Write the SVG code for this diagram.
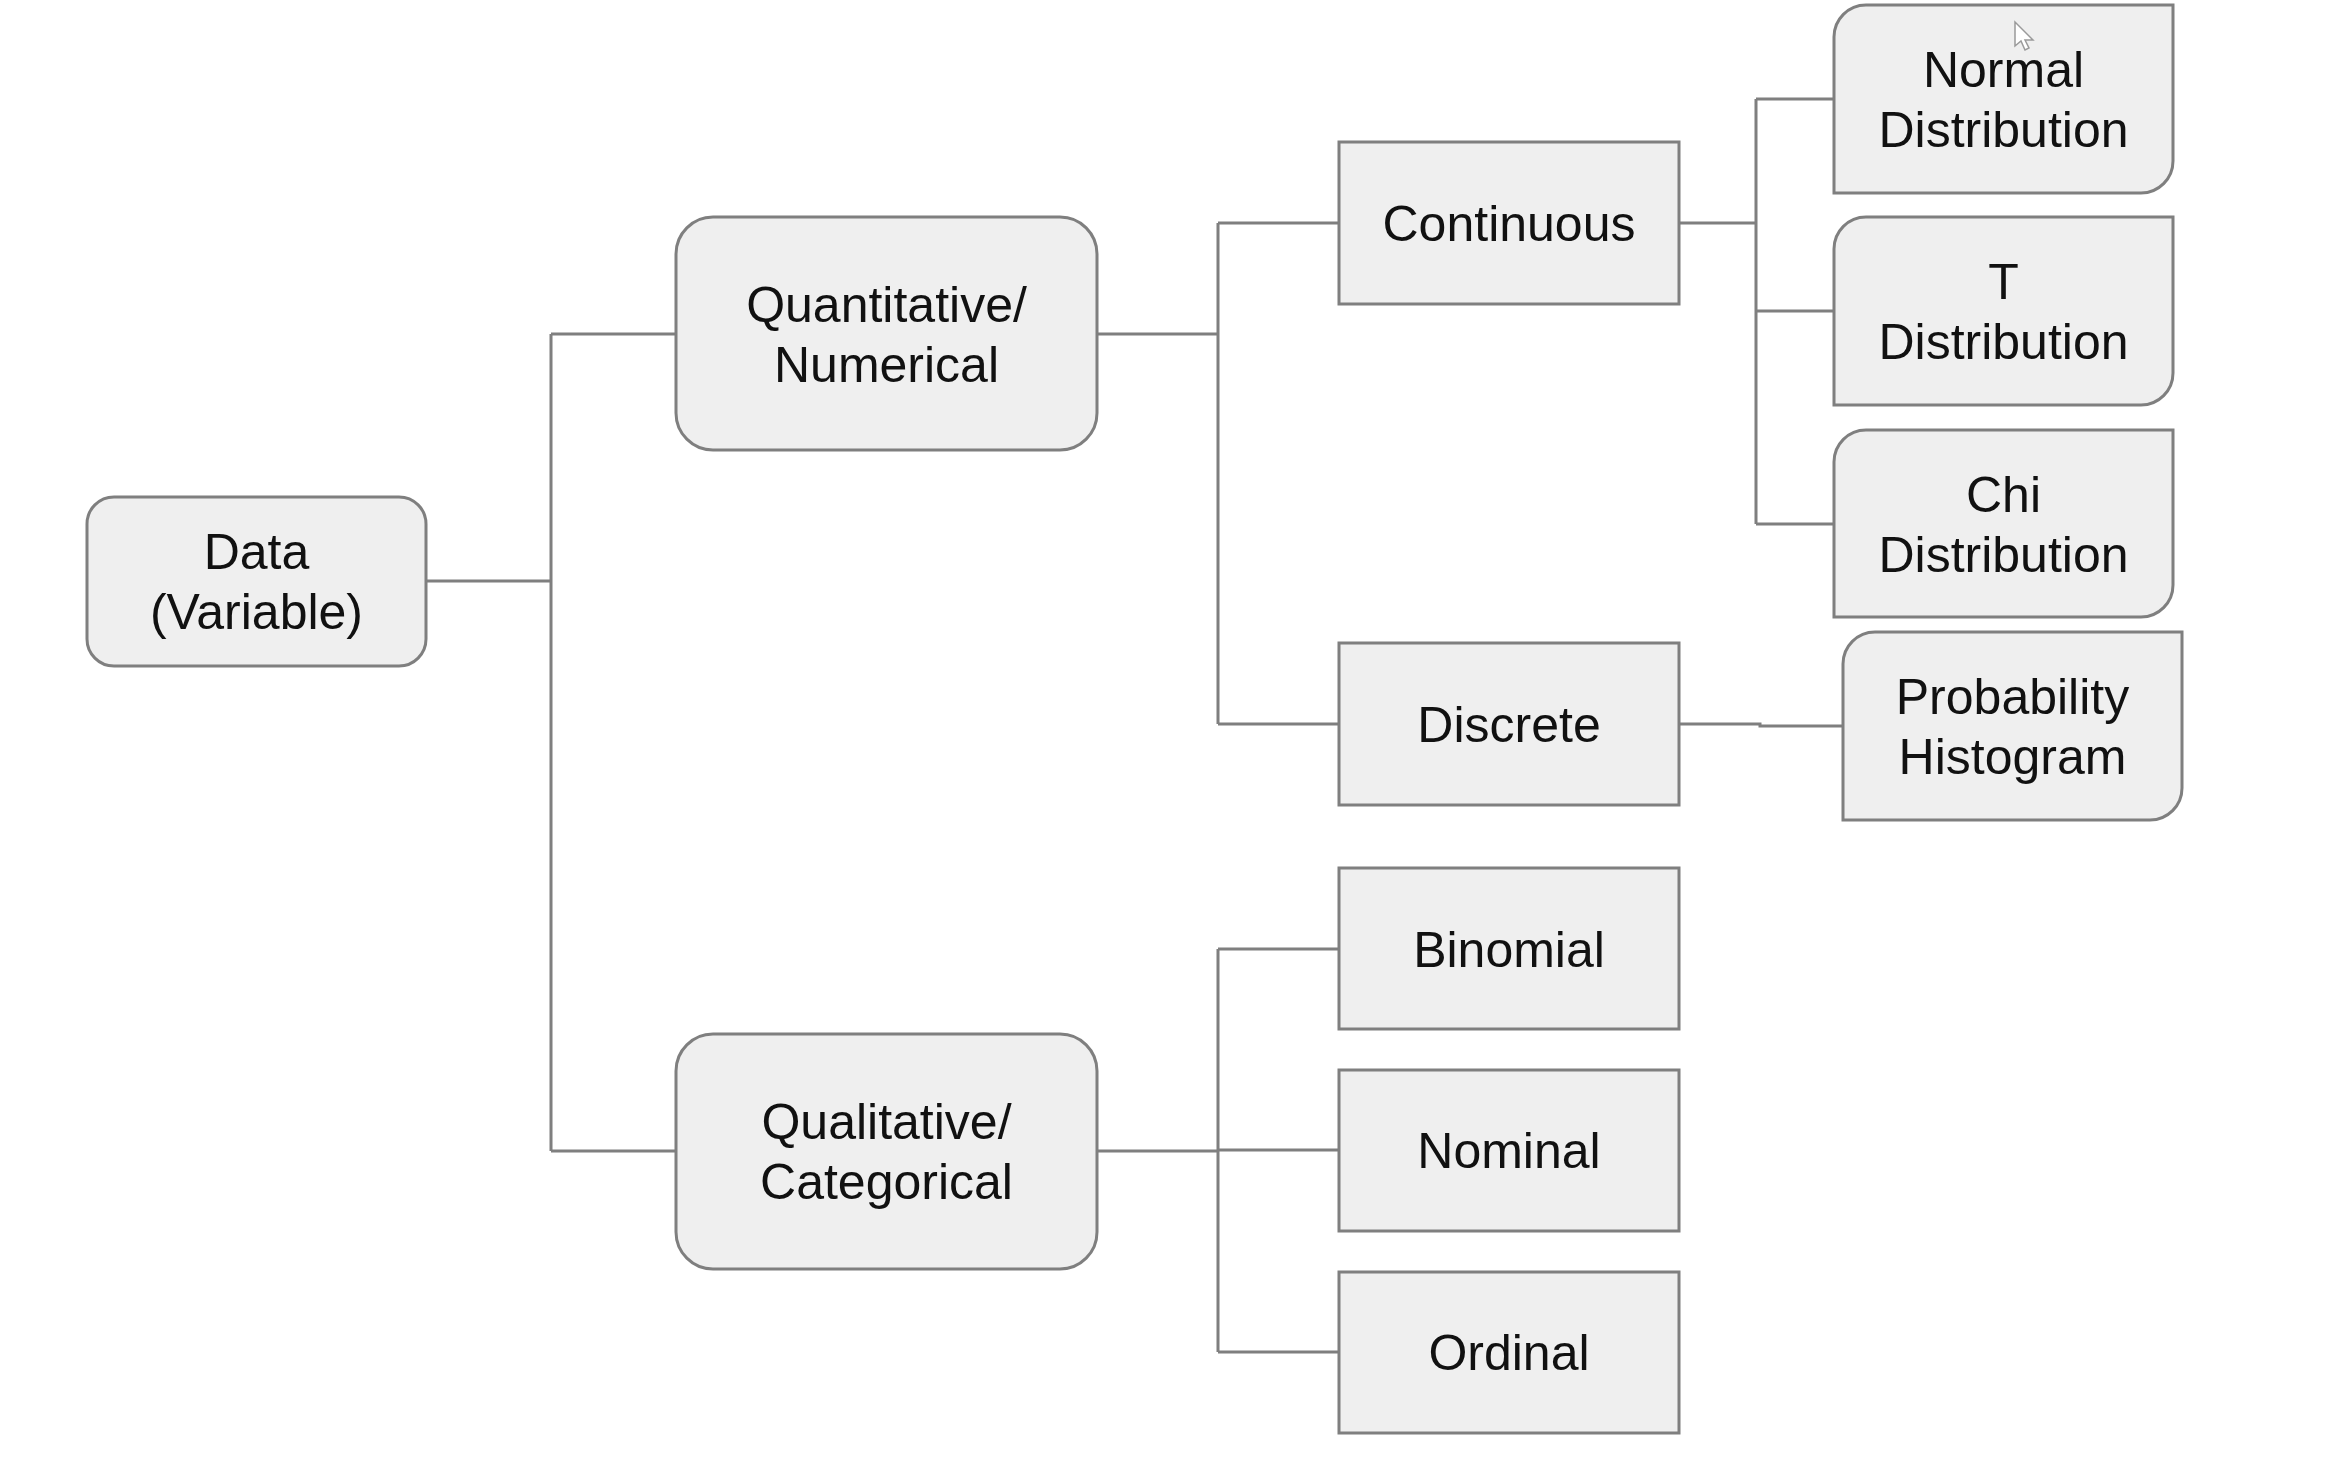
<svg xmlns="http://www.w3.org/2000/svg" width="2346" height="1464" viewBox="0 0 2346 1464">
<style>
.box{fill:#efefef;stroke:#7f7f7f;stroke-width:3}
.lbl{font-family:"Liberation Sans",Arial,sans-serif;font-size:50px;fill:#111;text-anchor:middle}
.con{fill:none;stroke:#7f7f7f;stroke-width:3}
</style>
<rect width="2346" height="1464" fill="#ffffff"/>
<g id="connectors">
<path class="con" d="M426,581 H551 M551,334 V1151 M551,334 H676 M551,1151 H676"/>
<path class="con" d="M1097,334 H1218 M1218,223 V724 M1218,223 H1339 M1218,724 H1339"/>
<path class="con" d="M1097,1151 H1218 M1218,949 V1352 M1218,949 H1339 M1218,1150 H1339 M1218,1352 H1339"/>
<path class="con" d="M1679,223 H1756 M1756,99 V524 M1756,99 H1834 M1756,311 H1834 M1756,524 H1834"/>
<path class="con" d="M1679,724 H1760 V726 H1843"/>
</g>
<g id="data"><rect class="box" x="87" y="497" width="339" height="169" rx="27"/><text class="lbl" x="256.5" y="569">Data</text><text class="lbl" x="256.5" y="629">(Variable)</text></g>
<g id="quantitative"><rect class="box" x="676" y="217" width="421" height="233" rx="37"/><text class="lbl" x="886.5" y="322">Quantitative/</text><text class="lbl" x="886.5" y="382">Numerical</text></g>
<g id="qualitative"><rect class="box" x="676" y="1034" width="421" height="235" rx="37"/><text class="lbl" x="886.5" y="1139">Qualitative/</text><text class="lbl" x="886.5" y="1199">Categorical</text></g>
<g id="continuous"><rect class="box" x="1339" y="142" width="340" height="162"/><text class="lbl" x="1509" y="241">Continuous</text></g>
<g id="discrete"><rect class="box" x="1339" y="643" width="340" height="162"/><text class="lbl" x="1509" y="742">Discrete</text></g>
<g id="binomial"><rect class="box" x="1339" y="868" width="340" height="161"/><text class="lbl" x="1509" y="967">Binomial</text></g>
<g id="nominal"><rect class="box" x="1339" y="1070" width="340" height="161"/><text class="lbl" x="1509" y="1168">Nominal</text></g>
<g id="ordinal"><rect class="box" x="1339" y="1272" width="340" height="161"/><text class="lbl" x="1509" y="1370">Ordinal</text></g>
<g id="normal"><path class="box" d="M1834,37 A32,32 0 0 1 1866,5 H2173 V161 A32,32 0 0 1 2141,193 H1834 Z"/><text class="lbl" x="2003.5" y="87">Normal</text><text class="lbl" x="2003.5" y="147">Distribution</text></g>
<g id="t-dist"><path class="box" d="M1834,249 A32,32 0 0 1 1866,217 H2173 V373 A32,32 0 0 1 2141,405 H1834 Z"/><text class="lbl" x="2003.5" y="299">T</text><text class="lbl" x="2003.5" y="359">Distribution</text></g>
<g id="chi"><path class="box" d="M1834,462 A32,32 0 0 1 1866,430 H2173 V585 A32,32 0 0 1 2141,617 H1834 Z"/><text class="lbl" x="2003.5" y="512">Chi</text><text class="lbl" x="2003.5" y="572">Distribution</text></g>
<g id="probability"><path class="box" d="M1843,664 A32,32 0 0 1 1875,632 H2182 V788 A32,32 0 0 1 2150,820 H1843 Z"/><text class="lbl" x="2012.5" y="714">Probability</text><text class="lbl" x="2012.5" y="774">Histogram</text></g>
<polygon points="2015,22 2015,46 2021,41 2025,50 2029,48 2025,40 2033,40" fill="#ffffff" stroke="#9a9a9a" stroke-width="1.5"/>
</svg>
